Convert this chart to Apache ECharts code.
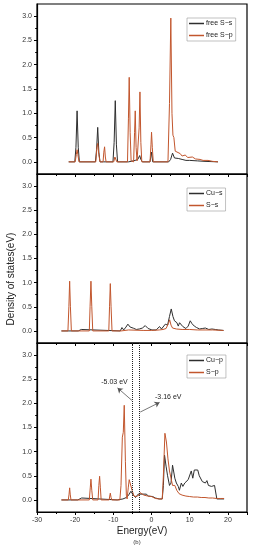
<!DOCTYPE html>
<html><head><meta charset="utf-8">
<script src="https://cdn.jsdelivr.net/npm/echarts@6/dist/echarts.min.js"></script>
<style>html,body{margin:0;padding:0;background:#fff}#c{width:254px;height:550px}</style>
</head><body><div id="c"></div>
<script>
// ---- data (energy eV, DOS) ----
const freeSs = [[-21.7,0],[-20.1,0],[-19.8,0.3],[-19.5,1.05],[-19.2,0.3],[-18.9,0],
[-14.7,0],[-14.4,0.25],[-14.1,0.71],[-13.8,0.2],[-13.5,0],[-12.5,0],[-12.3,0.04],[-12.1,0],
[-10.1,0],[-9.8,0.4],[-9.5,1.26],[-9.2,0.35],[-8.9,0],[-6.0,0],[-5.8,0.03],[-5.5,0.01],
[-4.3,0.03],[-3.6,0.05],[-3.1,0.13],[-2.8,0.05],[-2.4,0],[-0.4,0],[0,0.2],[0.3,0],
[4.5,0],[5.0,0.05],[5.5,0.18],[6.0,0.08],[6.5,0.05],[7.0,0.07],[8,0.05],[9,0.03],[10,0.03],[12,0.02],[14,0.01],[17.4,0]];
const freeSp = [[-21.7,0],[-20.0,0],[-19.7,0.15],[-19.5,0.25],[-19.3,0.15],[-19.0,0],
[-14.6,0],[-14.3,0.3],[-14.1,0.38],[-13.8,0.15],[-13.5,0],[-12.7,0],[-12.5,0.2],[-12.3,0.31],[-12.1,0.1],[-11.9,0],
[-9.9,0],[-9.6,0.1],[-9.4,0.1],[-9.1,0],[-6.3,0],[-6.05,0.9],[-5.85,1.74],[-5.6,0.6],[-5.35,0.02],
[-4.7,0],[-4.45,0.6],[-4.27,1.05],[-4.05,0.3],[-3.8,0.02],[-3.5,0.02],[-3.25,0.7],[-3.04,1.44],[-2.8,0.4],[-2.55,0],
[-0.4,0],[-0.15,0.35],[0,0.61],[0.2,0.3],[0.45,0],[4.3,0],[4.7,1.2],[5.05,2.96],[5.35,1.0],[5.6,0.55],[5.85,0.5],
[6.2,0.22],[6.7,0.21],[7.5,0.17],[8.0,0.12],[8.8,0.14],[9.5,0.09],[10.7,0.1],[11.5,0.06],[12.7,0.05],[13.5,0.03],[14.8,0.03],[16,0.01],[17.4,0]];
const CuS = [[-23.6,0],[-19.2,0],[-18.9,0.03],[-18.4,0.03],[-18.1,0],[-8.2,0],[-7.75,0.07],[-7.3,0.02],[-6.7,0.08],[-6.2,0.14],
[-5.6,0.08],[-4.7,0.055],[-4.0,0.03],[-3.2,0.04],[-2.4,0.06],[-1.65,0.11],[-0.9,0.05],[0.1,0.02],[1.2,0.02],[2.1,0.09],
[2.6,0.04],[3.1,0.06],[3.6,0.14],[4.2,0.12],[4.7,0.3],[5.16,0.455],[5.6,0.3],[6.0,0.21],[6.65,0.17],[7.0,0.1],[7.34,0.17],
[8.2,0.09],[9.0,0.05],[9.6,0.1],[10.13,0.21],[10.6,0.15],[11.2,0.1],[11.8,0.07],[12.6,0.04],[13.3,0.05],[14.1,0.06],
[15.0,0.03],[15.8,0.04],[16.7,0.03],[17.5,0.02],[18.85,0.01]];
const Ss = [[-23.6,0],[-21.9,0],[-21.65,0.5],[-21.45,1.03],[-21.25,0.5],[-21.0,0],[-16.3,0],[-16.1,0.5],[-15.87,1.03],
[-15.65,0.5],[-15.4,0],[-11.2,0],[-11.0,0.5],[-10.8,0.98],[-10.6,0.5],[-10.35,0],[-8,0],[-7.8,0.02],[-6,0.02],[-2,0.01],
[0,0.01],[2,0.02],[3,0.03],[3.8,0.05],[4.4,0.15],[4.75,0.23],[5.1,0.12],[5.5,0.06],[6.5,0.04],[8,0.03],[10,0.03],
[12,0.02],[14,0.02],[16,0.02],[18.85,0.01]];
const CuP = [[-23.6,0],[-19.3,0],[-19,0.04],[-18.3,0.04],[-17.8,0],[-9,0],[-7.5,0.02],[-6.6,0.05],[-6.0,0.1],[-5.4,0.18],
[-4.8,0.1],[-4.2,0.05],[-3.5,0.12],[-3.0,0.16],[-2.5,0.12],[-2.0,0.1],[-1.4,0.12],[-0.8,0.08],[-0.3,0.1],[0.3,0.07],[1,0.04],
[2,0.02],[2.8,0.02],[3.1,0.3],[3.4,0.93],[3.8,0.7],[4.2,0.5],[4.7,0.3],[5.1,0.35],[5.5,0.72],[5.75,0.72],[6.1,0.45],
[6.5,0.35],[7,0.28],[7.3,0.2],[7.8,0.35],[8.2,0.28],[8.7,0.35],[9.2,0.32],[9.6,0.42],[10.0,0.4],[10.4,0.6],[10.8,0.45],
[11.2,0.62],[11.7,0.66],[12.1,0.62],[12.5,0.5],[12.9,0.48],[13.3,0.38],[13.7,0.42],[14.1,0.35],[14.5,0.4],[14.9,0.3],
[15.3,0.32],[15.7,0.28],[16.1,0.32],[16.5,0.3],[16.9,0.33],[17.1,0.02],[19,0.02]];
const Sp = [[-23.6,0],[-21.8,0],[-21.6,0.12],[-21.45,0.25],[-21.3,0.12],[-21.1,0],[-16.3,0],[-16.05,0.25],[-15.87,0.43],
[-15.65,0.2],[-15.4,0],[-14.0,0],[-13.8,0.3],[-13.6,0.49],[-13.4,0.25],[-13.2,0],[-11.1,0],[-10.95,0.08],[-10.8,0.14],
[-10.6,0.05],[-10.4,0],[-8.3,0],[-8.0,0.3],[-7.65,1.3],[-7.4,1.4],[-7.15,1.96],[-6.85,0.8],[-6.6,0.1],[-6.4,0.02],
[-6.1,0.25],[-5.85,0.42],[-5.4,0.4],[-5.1,0.2],[-4.6,0.08],[-4,0.07],[-3.3,0.1],[-3.0,0.15],[-2.5,0.12],[-2,0.1],
[-1.5,0.1],[-1,0.08],[-0.5,0.08],[0,0.07],[0.5,0.05],[1,0.03],[2,0.02],[2.8,0.02],[3.1,0.5],[3.5,1.38],[3.9,1.2],
[4.3,0.85],[4.7,0.6],[5.1,0.45],[5.5,0.3],[6.1,0.3],[6.6,0.2],[7.2,0.13],[8,0.1],[9,0.08],[10,0.07],[11,0.06],[12,0.06],
[13,0.05],[14,0.05],[15,0.04],[16,0.04],[17,0.03],[18,0.03],[19,0.03]];
const xTicks = {min:-30, max:25, interval:10};
const yMajor = [0,0.5,1.0,1.5,2.0,2.5,3.0];
const yMinor = [0.25,0.75,1.25,1.75,2.25,2.75];
const fermiLines = [-5.03, -3.16];
const legendNames = [["free S−s","free S−p"],["Cu−s","S−s"],["Cu−p","S−p"]];

const BLACK = '#2e2e2e', ORANGE = '#c2562d', FONT = 'Liberation Sans';
const grids = [{left:37,right:7,top:4,height:170},{left:37,right:7,top:174,height:169},{left:37,right:7,top:343,height:169}];
const xAxes = [], yAxes = [];
grids.forEach((g,i)=>{
  g.show = true; g.borderColor = '#000'; g.borderWidth = 1.2;
  xAxes.push({type:'value', gridIndex:i, min:xTicks.min, max:xTicks.max, interval:xTicks.interval,
    splitLine:{show:false}, axisLine:{onZero:false, lineStyle:{color:'#000',width:1.2}},
    axisTick:{length:3, lineStyle:{color:'#000'}},
    minorTick:{show:true, splitNumber:2, length:2, lineStyle:{color:'#000'}},
    axisLabel:{show:i===2, fontSize:7, color:'#333', fontFamily:FONT, margin:5,
      formatter:v=> (v%10===0 && v<=20) ? String(v) : ''},
    name: i===2 ? 'Energy(eV)' : '', nameLocation:'middle', nameGap:14,
    nameTextStyle:{fontSize:10, color:'#222', fontFamily:FONT}});
  yAxes.push({type:'value', gridIndex:i, min:-0.25, max:3.25, splitLine:{show:false},
    axisLine:{show:true, onZero:false, lineStyle:{color:'#000',width:1.2}},
    axisTick:{show:true, length:3, customValues:yMajor, lineStyle:{color:'#000'}},
    axisLabel:{fontSize:7, color:'#333', fontFamily:FONT, margin:5, customValues:yMajor, formatter:v=>v.toFixed(1)}});
  yAxes.push({type:'value', gridIndex:i, min:-0.25, max:3.25, position:'left', splitLine:{show:false},
    axisLine:{show:false, onZero:false}, axisLabel:{show:false},
    axisTick:{show:true, length:1.8, customValues:yMinor, lineStyle:{color:'#000'}}});
});
const datas = [[freeSs,freeSp],[CuS,Ss],[CuP,Sp]];
const series = [];
datas.forEach((pair,i)=>{
  pair.forEach((d,j)=>{
    series.push({type:'line', name:legendNames[i][j], xAxisIndex:i, yAxisIndex:2*i, data:d,
      showSymbol:false, symbol:'none', lineStyle:{width:1, color: j===0?BLACK:ORANGE}, itemStyle:{color:j===0?BLACK:ORANGE},
      animation:false, z: j===0?2:3});
  });
});
// annotations on the last panel
series[4].markLine = {silent:true, animation:false, symbol:'none', label:{show:false},
  lineStyle:{type:'dotted', color:'#222', width:1},
  data: fermiLines.map(v=>({xAxis:v}))};
series[5].markLine = {silent:true, animation:false, symbol:['none','arrow'], symbolSize:5, label:{show:false},
  lineStyle:{type:'solid', color:'#555', width:0.8},
  data:[[{coord:[-5.13,2.06]},{coord:[-8.9,2.32]}],[{coord:[-2.96,1.82]},{coord:[2.1,2.02]}]]};
series[5].markPoint = {silent:true, animation:false, symbol:'circle', symbolSize:0,
  label:{show:true, position:'inside', fontSize:7, color:'#222', fontFamily:FONT, formatter:p=>p.name},
  data:[{name:'-5.03 eV', coord:[-9.7,2.45]},{name:'-3.16 eV', coord:[4.37,2.14]}]};

const legendTops = [18,188,355];
const legends = legendTops.map((t,i)=>({data:legendNames[i], orient:'vertical', left:187, top:t,
  icon:'rect', itemWidth:15, itemHeight:1.5, itemGap:5, padding:[2,3,2,2],
  borderColor:'#999', borderWidth:0.6, textStyle:{fontSize:7, color:'#222', fontFamily:FONT, padding:[0,0,0,-3]}}));

const chart = echarts.init(document.getElementById('c'), null, {renderer:'canvas'});
chart.setOption({animation:false, backgroundColor:'#fff', grid:grids, xAxis:xAxes, yAxis:yAxes, series:series, legend:legends,
  graphic:[
    {type:'text', x:11, y:279, rotation:Math.PI/2, style:{text:'Density of states(eV)', fontSize:10, fill:'#222', fontFamily:FONT, align:'center', verticalAlign:'middle'}},
    {type:'text', x:137, y:542, style:{text:'(b)', fontSize:6, fill:'#333', fontFamily:FONT, align:'center', verticalAlign:'middle'}}
  ]});
</script></body></html>
